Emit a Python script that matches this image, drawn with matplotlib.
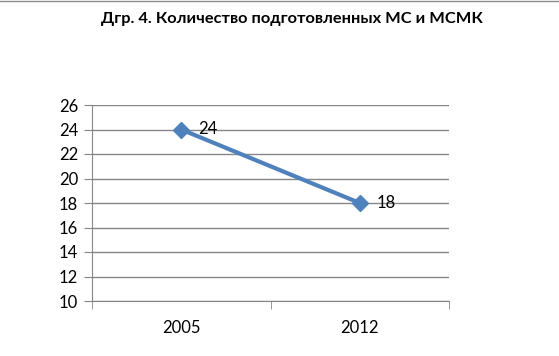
import matplotlib.pyplot as plt
from matplotlib.lines import Line2D

years = ["2005", "2012"]
counts = [24, 18]
yticks = [10, 12, 14, 16, 18, 20, 22, 24, 26]
title = "Дгр. 4. Количество подготовленных МС и МСМК"

plt.rcParams['font.family'] = ['Lato', 'DejaVu Sans']

fig = plt.figure(figsize=(5.59, 3.56), dpi=100)
ax = fig.add_axes([92/559, 1 - 301/356, (449 - 92)/559, (301 - 105)/356])

x = [0, 1]
ax.plot(x, counts, color='#4F81BD', lw=3, marker='D', ms=8,
        markerfacecolor='#4F81BD', markeredgecolor='#4F81BD', zorder=3)
for xi, v in zip(x, counts):
    ax.annotate(str(v), (xi, v), xytext=(12, 0), textcoords='offset points',
                va='center', ha='left', fontsize=12, color='black')

ax.set_xlim(-0.5, 1.5)
ax.set_ylim(10, 26)
ax.set_yticks(yticks)
ax.set_yticklabels([str(t) for t in yticks], fontsize=12)
ax.set_xticks(x)
ax.set_xticklabels(years, fontsize=12)
ax.set_xticks([-0.5, 0.5, 1.5], minor=True)
ax.tick_params(axis='x', which='major', length=0, pad=14)
ax.tick_params(axis='x', which='minor', length=6, color='#868686')
ax.tick_params(axis='y', length=6, color='#868686', pad=4)

ax.grid(axis='y', color='#868686', lw=1)
ax.set_axisbelow(True)
for s in ['top', 'right']:
    ax.spines[s].set_visible(False)
for s in ['left', 'bottom']:
    ax.spines[s].set_color('#868686')

fig.text(292/559, 1 - 19/356, title, ha='center', va='center',
         fontsize=11.8, fontweight='bold')
fig.add_artist(Line2D([0, 1], [1 - 1/356, 1 - 1/356], color='#8c8c8c', lw=1))

fig.savefig('out.png', dpi=100)
